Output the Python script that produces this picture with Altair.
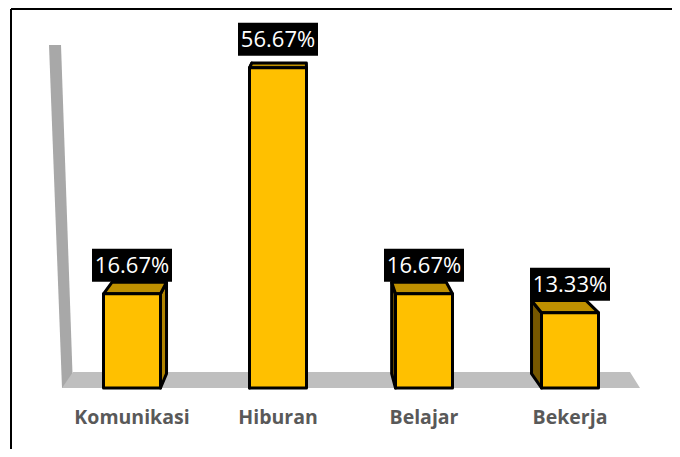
import altair as alt
import pandas as pd

# ---- data ----
categories = ["Komunikasi", "Hiburan", "Belajar", "Bekerja"]
values = [16.67, 56.67, 16.67, 13.33]
labels = ["16.67%", "56.67%", "16.67%", "13.33%"]

# ---- layout / style ----
W, H = 584, 339
YMAX = 60
STEP = W / len(categories)
KY = H / YMAX
HALF = 28.5           # half bar width (px)
VP = (245.0, -140.0)  # perspective vanishing point (plot px)
TX, TY = 0.042, 0.03  # bar depth factors
PAD = {"left": 51, "top": 41, "right": 29, "bottom": 61}
SW = 3

def xd(px):
    return px / STEP

def yd(py):
    return (H - py) / KY

def back(x, y):
    return x + TX * (VP[0] - x), y + TY * (VP[1] - y)

front_rows, top_rows, side_rows, box_rows = [], [], [], []
for i, (c, v, lab) in enumerate(zip(categories, values, labels)):
    cx = (i + 0.5) * STEP
    xl, xr = cx - HALF, cx + HALF
    yt, yb = H - v * KY, H
    front_rows.append({"cat": c, "x": xd(xl), "x2": xd(xr), "y": v, "y2": 0})
    xlb, ytb = back(xl, yt)
    xrb, _ = back(xr, yt)
    top_rows.append({"cat": c, "y": yd(yt), "x": xd(xl), "x2": xd(xr)})
    top_rows.append({"cat": c, "y": yd(ytb), "x": xd(xlb), "x2": xd(xrb)})
    if VP[0] > xr:
        xs, side = xr, "right"
    else:
        xs, side = xl, "left"
    xsb, ytb2 = back(xs, yt)
    _, ybb = back(xs, yb)
    side_rows.append({"cat": c, "side": side, "x": xd(xs), "y": yd(yt), "y2": yd(yb)})
    side_rows.append({"cat": c, "side": side, "x": xd(xsb), "y": yd(ytb2), "y2": yd(ybb)})
    box_rows.append({"cat": c, "label": lab, "cx": xd(cx),
                     "x": xd(cx - 40), "x2": xd(cx + 40),
                     "y": v + 12 / KY, "y2": v + 45 / KY, "ty": v + 28.5 / KY})

front = pd.DataFrame(front_rows)
tops = pd.DataFrame(top_rows)
sides = pd.DataFrame(side_rows)
boxes = pd.DataFrame(box_rows)

wall = pd.DataFrame([
    {"y": yd(-4), "x": xd(-10), "x2": xd(2)},
    {"y": yd(H), "x": xd(3), "x2": xd(14)},
])
floor = pd.DataFrame([
    {"y": yd(H - 16), "x": xd(14), "x2": xd(571)},
    {"y": yd(H), "x": xd(3), "x2": xd(581)},
])

xs_ = alt.Scale(domain=[0, len(categories)], nice=False, zero=False)
ys_ = alt.Scale(domain=[0, YMAX], nice=False, zero=False)
X = lambda f: alt.X(f, type="quantitative", scale=xs_, axis=None)
Y = lambda f: alt.Y(f, type="quantitative", scale=ys_, axis=None)

wall_l = alt.Chart(wall).mark_area(orient="horizontal", color="#a8a8a8", opacity=1).encode(
    y=Y("y"), x=X("x"), x2="x2")
floor_l = alt.Chart(floor).mark_area(orient="horizontal", color="#bfbfbf", opacity=1).encode(
    y=Y("y"), x=X("x"), x2="x2")

side_l = alt.Chart(sides).mark_area(orient="vertical", stroke="black", strokeWidth=SW,
                                    strokeJoin="round", opacity=1).encode(
    x=X("x"), y=Y("y"), y2="y2", detail="cat:N",
    fill=alt.Fill("side:N", scale=alt.Scale(domain=["right", "left"], range=["#b08300", "#765700"]),
                  legend=None))
top_l = alt.Chart(tops).mark_area(orient="horizontal", fill="#bf9000", stroke="black",
                                  strokeWidth=SW, strokeJoin="round", opacity=1).encode(
    y=Y("y"), x=X("x"), x2="x2", detail="cat:N")
front_l = alt.Chart(front).mark_bar(fill="#ffc000", stroke="black", strokeWidth=SW,
                                    strokeJoin="round").encode(
    x=X("x"), x2="x2", y=Y("y"), y2="y2")

box_l = alt.Chart(boxes).mark_rect(color="black").encode(
    x=X("x"), x2="x2", y=Y("y"), y2="y2")
txt_l = alt.Chart(boxes).mark_text(color="white", font="Open Sans", fontSize=22,
                                   baseline="middle", dy=1).encode(
    x=X("cx"), y=Y("ty"), text="label:N")

cat_l = alt.Chart(boxes).mark_text(color="#595959", font="Open Sans", fontSize=19.5,
                                   fontWeight="bold", baseline="middle").encode(
    x=X("cx"), y=alt.value(369), text="cat:N")

border_h = alt.Chart(boxes).mark_rule(color="black", strokeWidth=2).encode(
    x=alt.value(-48), x2=alt.value(W + 30), y=alt.value(-40))
border_v = alt.Chart(boxes).mark_rule(color="black", strokeWidth=2).encode(
    x=alt.value(-48), y=alt.value(-40), y2=alt.value(H + 70))

chart = alt.layer(
    wall_l, floor_l, side_l, top_l, front_l, box_l, txt_l, cat_l, border_h, border_v
).properties(
    width=W, height=H, padding=PAD,
    autosize=alt.AutoSizeParams(type="none"),
).configure_view(stroke=None)

chart.save("out.html", embed_options={"renderer": "svg", "actions": False})
